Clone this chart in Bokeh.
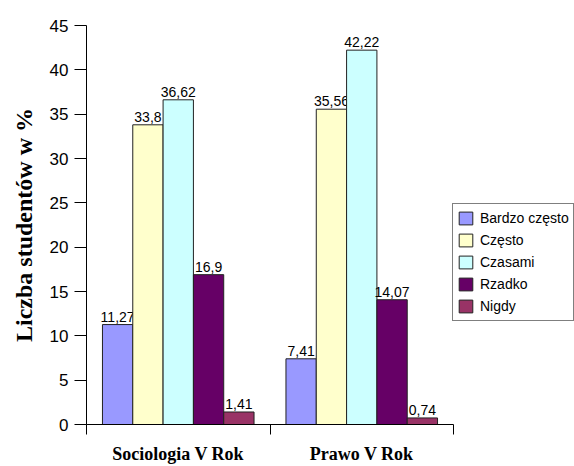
from bokeh.plotting import figure
from bokeh.models import (ColumnDataSource, Range1d, FixedTicker, Legend, LegendItem,
                          LinearAxis)
from bokeh.transform import dodge
from bokeh.core.properties import value
from bokeh.embed import file_html
from bokeh.resources import INLINE

# ---- data ----
categories = ["Sociologia V Rok", "Prawo V Rok"]
series = ["Bardzo często", "Często", "Czasami", "Rzadko", "Nigdy"]
bardzo_czesto = [11.27, 7.41]
czesto = [33.8, 35.56]
czasami = [36.62, 42.22]
rzadko = [16.9, 14.07]
nigdy = [1.41, 0.74]
y_ticks = [0, 5, 10, 15, 20, 25, 30, 35, 40, 45]

values = [bardzo_czesto, czesto, czasami, rzadko, nigdy]
colors = ["#9999FF", "#FFFFCC", "#CCFFFF", "#660066", "#993366"]

n_cat = len(categories)
centers = [i + 0.5 for i in range(n_cat)]
bar_w = 0.1652

# frame spans 86..574 px; the category area spans 86..453 px (legend sits to its right)
x_end = n_cat * (574 - 86) / (453 - 86)

p = figure(width=574, height=466, output_backend="svg", toolbar_location=None,
           x_range=Range1d(0, x_end), y_range=Range1d(0, 45),
           x_axis_type=None, y_axis_type=None,
           min_border_left=86, min_border_right=0, min_border_top=25, min_border_bottom=39)
p.outline_line_color = None
p.xgrid.visible = False
p.ygrid.visible = False
p.background_fill_color = "white"

# y axis
yax = LinearAxis(ticker=FixedTicker(ticks=y_ticks, minor_ticks=[]))
yax.axis_label = "Liczba studentów w %"
yax.axis_label_text_font = "Liberation Serif"
yax.axis_label_text_font_style = "bold"
yax.axis_label_text_font_size = "24px"
yax.axis_label_text_color = "black"
yax.axis_label_standoff = 10
yax.major_label_text_font = "Liberation Sans"
yax.major_label_text_font_size = "17px"
yax.major_label_text_color = "black"
yax.major_label_standoff = 6
yax.major_tick_in = 0
yax.major_tick_out = 12
yax.minor_tick_out = 0
yax.axis_line_color = "black"
yax.major_tick_line_color = "black"
p.add_layout(yax, "left")

# x axis
xax = LinearAxis(ticker=FixedTicker(ticks=centers, minor_ticks=list(range(n_cat + 1))),
                 bounds=(0, n_cat))
xax.major_label_overrides = {c: lab for c, lab in zip(centers, categories)}
xax.major_label_text_font = "Liberation Serif"
xax.major_label_text_font_style = "bold"
xax.major_label_text_font_size = "18px"
xax.major_label_text_color = "black"
xax.major_label_standoff = 9
xax.major_tick_in = 0
xax.major_tick_out = 0
xax.minor_tick_in = 0
xax.minor_tick_out = 10
xax.minor_tick_line_color = "black"
xax.axis_line_color = "black"
p.add_layout(xax, "below")

legend_items = []
for j, (name, vals, col) in enumerate(zip(series, values, colors)):
    off = (j - 2) * bar_w
    src = ColumnDataSource(dict(x=centers, top=vals,
                                lab=[str(v).replace(".", ",") for v in vals]))
    r = p.vbar(x=dodge("x", off, range=p.x_range), top="top", width=bar_w, bottom=0,
               source=src, fill_color=col, line_color="#222222", line_width=1)
    p.text(x=dodge("x", off, range=p.x_range), y="top", text="lab", source=src,
           text_align="center", text_baseline="bottom", y_offset=-3,
           text_font=value("Liberation Sans"), text_font_size="14px", text_color="black")
    legend_items.append(LegendItem(label=name, renderers=[r]))

legend = Legend(items=legend_items, location=(366, 103))
legend.label_text_font = "Liberation Sans"
legend.label_text_font_size = "14px"
legend.label_text_color = "black"
legend.glyph_width = 17
legend.glyph_height = 16
legend.label_height = 20
legend.spacing = 2
legend.padding = 4
legend.margin = 0
legend.label_standoff = 6
legend.border_line_color = "black"
legend.border_line_width = 1
legend.background_fill_alpha = 1
p.add_layout(legend, "center")

open("out.html", "w").write(file_html(p, INLINE))
